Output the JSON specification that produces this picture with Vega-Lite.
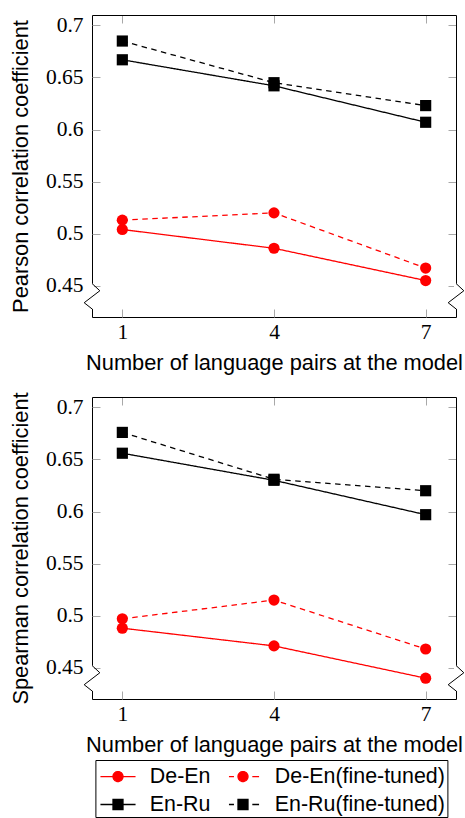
{
  "$schema": "https://vega.github.io/schema/vega-lite/v6.json",
  "padding": {"left": 10, "top": 14, "right": 0, "bottom": 0},
  "datasets": {
    "scores": [
      {"metric": "Pearson", "series": "De-En", "pairs": 1, "value": 0.504},
      {"metric": "Pearson", "series": "De-En", "pairs": 4, "value": 0.486},
      {"metric": "Pearson", "series": "De-En", "pairs": 7, "value": 0.455},
      {"metric": "Pearson", "series": "De-En(fine-tuned)", "pairs": 1, "value": 0.513},
      {"metric": "Pearson", "series": "De-En(fine-tuned)", "pairs": 4, "value": 0.520},
      {"metric": "Pearson", "series": "De-En(fine-tuned)", "pairs": 7, "value": 0.467},
      {"metric": "Pearson", "series": "En-Ru", "pairs": 1, "value": 0.667},
      {"metric": "Pearson", "series": "En-Ru", "pairs": 4, "value": 0.642},
      {"metric": "Pearson", "series": "En-Ru", "pairs": 7, "value": 0.607},
      {"metric": "Pearson", "series": "En-Ru(fine-tuned)", "pairs": 1, "value": 0.685},
      {"metric": "Pearson", "series": "En-Ru(fine-tuned)", "pairs": 4, "value": 0.645},
      {"metric": "Pearson", "series": "En-Ru(fine-tuned)", "pairs": 7, "value": 0.623},
      {"metric": "Spearman", "series": "De-En", "pairs": 1, "value": 0.488},
      {"metric": "Spearman", "series": "De-En", "pairs": 4, "value": 0.471},
      {"metric": "Spearman", "series": "De-En", "pairs": 7, "value": 0.440},
      {"metric": "Spearman", "series": "De-En(fine-tuned)", "pairs": 1, "value": 0.497},
      {"metric": "Spearman", "series": "De-En(fine-tuned)", "pairs": 4, "value": 0.515},
      {"metric": "Spearman", "series": "De-En(fine-tuned)", "pairs": 7, "value": 0.468},
      {"metric": "Spearman", "series": "En-Ru", "pairs": 1, "value": 0.656},
      {"metric": "Spearman", "series": "En-Ru", "pairs": 4, "value": 0.630},
      {"metric": "Spearman", "series": "En-Ru", "pairs": 7, "value": 0.597},
      {"metric": "Spearman", "series": "En-Ru(fine-tuned)", "pairs": 1, "value": 0.676},
      {"metric": "Spearman", "series": "En-Ru(fine-tuned)", "pairs": 4, "value": 0.631},
      {"metric": "Spearman", "series": "En-Ru(fine-tuned)", "pairs": 7, "value": 0.620}
    ],
    "breaks": [
      {"side": "L", "ord": 1, "bx": 0.4, "by": 0.4522},
      {"side": "L", "ord": 2, "bx": 0.555, "by": 0.4452},
      {"side": "L", "ord": 3, "bx": 0.245, "by": 0.4337},
      {"side": "L", "ord": 4, "bx": 0.4, "by": 0.4278},
      {"side": "R", "ord": 1, "bx": 7.6, "by": 0.4522},
      {"side": "R", "ord": 2, "bx": 7.755, "by": 0.4452},
      {"side": "R", "ord": 3, "bx": 7.445, "by": 0.4337},
      {"side": "R", "ord": 4, "bx": 7.6, "by": 0.4278}
    ]
  },
  "config": {
    "view": {"stroke": null},
    "axis": {
      "zindex": 0,
      "grid": false,
      "domainColor": "black",
      "domainWidth": 1,
      "tickColor": "#a8a8a8",
      "tickWidth": 1,
      "labelFont": "Liberation Serif",
      "labelFontSize": 21.5,
      "labelColor": "black",
      "titleFont": "Liberation Sans",
      "titleFontSize": 21.8,
      "titleFontWeight": "normal",
      "titleColor": "black"
    }
  },
  "spacing": 16,
  "vconcat": [
    {
      "width": 364,
      "height": 302,
      "layer": [
        {
          "data": {"name": "scores"},
          "transform": [{"filter": "datum.metric === 'Pearson'"}],
          "mark": {"type": "line", "strokeWidth": 1.3},
          "encoding": {
            "x": {"field": "pairs", "type": "quantitative", "scale": {"domain": [0.4, 7.6], "nice": false, "zero": false},
              "axis": {"orient": "bottom", "values": [1, 4, 7], "format": "d", "ticks": false, "labelPadding": 4, "title": "Number of language pairs at the model", "titlePadding": 10}},
            "y": {"field": "value", "type": "quantitative", "scale": {"domain": [0.42, 0.71], "nice": false, "zero": false},
              "axis": {"orient": "left", "values": [0.45, 0.5, 0.55, 0.6, 0.65, 0.7], "format": "~g", "ticks": false, "labelPadding": 9, "title": "Pearson correlation coefficient", "titlePadding": 13}},
            "color": {"field": "series", "type": "nominal",
              "scale": {"domain": ["De-En", "En-Ru", "De-En(fine-tuned)", "En-Ru(fine-tuned)"], "range": ["#ff0000", "#000000", "#ff0000", "#000000"]},
              "legend": {
                "title": null,
                "orient": "none",
                "legendX": 3.4,
                "legendY": 745,
                "columns": 2,
                "symbolSize": 729,
                "symbolStrokeWidth": 1.3,
                "symbolOffset": 6.1,
                "labelOffset": 17.3,
                "labelFont": "Liberation Sans",
                "labelFontSize": 21.4,
                "labelColor": "black",
                "labelLimit": 300,
                "padding": 2,
                "columnPadding": 11,
                "rowPadding": 3,
                "strokeColor": "black",
                "fillColor": "white",
                "encode": {
                  "symbols": {
                    "update": {
                      "shape": {"signal": "datum.value === 'De-En' ? 'M-1.3,0H1.3M0.37,0A0.37,0.37,0,1,1,-0.37,0A0.37,0.37,0,1,1,0.37,0Z' : datum.value === 'De-En(fine-tuned)' ? 'M-1.04,0H-0.67M0.69,0H1.19M0.37,0A0.37,0.37,0,1,1,-0.37,0A0.37,0.37,0,1,1,0.37,0Z' : datum.value === 'En-Ru' ? 'M-1.3,0H1.3M-0.37,-0.37H0.37V0.37H-0.37Z' : 'M-1.04,0H-0.67M0.69,0H1.19M-0.37,-0.37H0.37V0.37H-0.37Z'"},
                      "fill": {"signal": "indexof(datum.value, 'De-En') === 0 ? '#ff0000' : '#000000'"},
                      "stroke": {"signal": "indexof(datum.value, 'De-En') === 0 ? '#ff0000' : '#000000'"},
                      "strokeWidth": {"value": 1.3},
                      "strokeDash": {"value": [1, 0]},
                      "opacity": {"value": 1}
                    }
                  }
                }
              }},
            "strokeDash": {"field": "series", "type": "nominal", "scale": {"domain": ["De-En(fine-tuned)", "En-Ru(fine-tuned)", "De-En", "En-Ru"], "range": [[5.5, 4.5], [5.5, 4.5], [1, 0], [1, 0]]}, "legend": null}
          }
        },
        {
          "data": {"name": "scores"},
          "transform": [{"filter": "datum.metric === 'Pearson'"}],
          "mark": {"type": "point", "filled": true, "opacity": 1, "size": 125},
          "encoding": {
            "x": {"field": "pairs", "type": "quantitative", "scale": {"domain": [0.4, 7.6], "nice": false, "zero": false},
              "axis": {"orient": "top", "values": [1, 4, 7], "labels": false, "title": null, "tickSize": -8}},
            "y": {"field": "value", "type": "quantitative", "scale": {"domain": [0.42, 0.71], "nice": false, "zero": false},
              "axis": {"orient": "right", "values": [0.45, 0.5, 0.55, 0.6, 0.65, 0.7], "labels": false, "title": null, "tickSize": -8}},
            "color": {"field": "series", "type": "nominal", "scale": {"domain": ["De-En", "En-Ru", "De-En(fine-tuned)", "En-Ru(fine-tuned)"], "range": ["#ff0000", "#000000", "#ff0000", "#000000"]}},
            "shape": {"field": "series", "type": "nominal", "scale": {"domain": ["De-En(fine-tuned)", "De-En", "En-Ru(fine-tuned)", "En-Ru"], "range": ["circle", "circle", "square", "square"]}, "legend": null}
          }
        },
        {
          "data": {"name": "breaks"},
          "transform": [{"filter": "datum.ord === 1 || datum.ord === 4"}],
          "mark": {"type": "line", "color": "white", "strokeWidth": 4, "strokeCap": "butt", "clip": false},
          "encoding": {
            "x": {"field": "bx", "type": "quantitative", "scale": {"domain": [0.4, 7.6], "nice": false, "zero": false}, "axis": null},
            "y": {"field": "by", "type": "quantitative", "scale": {"domain": [0.42, 0.71], "nice": false, "zero": false}, "axis": null},
            "detail": {"field": "side"},
            "order": {"field": "ord"}
          }
        },
        {
          "data": {"name": "breaks"},
          "mark": {"type": "line", "color": "black", "strokeWidth": 1, "clip": false},
          "encoding": {
            "x": {"field": "bx", "type": "quantitative", "scale": {"domain": [0.4, 7.6], "nice": false, "zero": false},
              "axis": {"orient": "bottom", "values": [1, 4, 7], "labels": false, "domain": false, "title": null, "tickSize": -8}},
            "y": {"field": "by", "type": "quantitative", "scale": {"domain": [0.42, 0.71], "nice": false, "zero": false},
              "axis": {"orient": "left", "values": [0.45, 0.5, 0.55, 0.6, 0.65, 0.7], "labels": false, "domain": false, "title": null, "tickSize": -8}},
            "detail": {"field": "side"},
            "order": {"field": "ord"}
          }
        }
      ],
      "resolve": {"axis": {"x": "independent", "y": "independent"}}
    },
    {
      "width": 364,
      "height": 302,
      "layer": [
        {
          "data": {"name": "scores"},
          "transform": [{"filter": "datum.metric === 'Spearman'"}],
          "mark": {"type": "line", "strokeWidth": 1.3},
          "encoding": {
            "x": {"field": "pairs", "type": "quantitative", "scale": {"domain": [0.4, 7.6], "nice": false, "zero": false},
              "axis": {"orient": "bottom", "values": [1, 4, 7], "format": "d", "ticks": false, "labelPadding": 4, "title": "Number of language pairs at the model", "titlePadding": 10}},
            "y": {"field": "value", "type": "quantitative", "scale": {"domain": [0.42, 0.71], "nice": false, "zero": false},
              "axis": {"orient": "left", "values": [0.45, 0.5, 0.55, 0.6, 0.65, 0.7], "format": "~g", "ticks": false, "labelPadding": 9, "title": "Spearman correlation coefficient", "titlePadding": 13}},
            "color": {"field": "series", "type": "nominal", "scale": {"domain": ["De-En", "En-Ru", "De-En(fine-tuned)", "En-Ru(fine-tuned)"], "range": ["#ff0000", "#000000", "#ff0000", "#000000"]}},
            "strokeDash": {"field": "series", "type": "nominal", "scale": {"domain": ["De-En(fine-tuned)", "En-Ru(fine-tuned)", "De-En", "En-Ru"], "range": [[5.5, 4.5], [5.5, 4.5], [1, 0], [1, 0]]}, "legend": null}
          }
        },
        {
          "data": {"name": "scores"},
          "transform": [{"filter": "datum.metric === 'Spearman'"}],
          "mark": {"type": "point", "filled": true, "opacity": 1, "size": 125},
          "encoding": {
            "x": {"field": "pairs", "type": "quantitative", "scale": {"domain": [0.4, 7.6], "nice": false, "zero": false},
              "axis": {"orient": "top", "values": [1, 4, 7], "labels": false, "title": null, "tickSize": -8}},
            "y": {"field": "value", "type": "quantitative", "scale": {"domain": [0.42, 0.71], "nice": false, "zero": false},
              "axis": {"orient": "right", "values": [0.45, 0.5, 0.55, 0.6, 0.65, 0.7], "labels": false, "title": null, "tickSize": -8}},
            "color": {"field": "series", "type": "nominal", "scale": {"domain": ["De-En", "En-Ru", "De-En(fine-tuned)", "En-Ru(fine-tuned)"], "range": ["#ff0000", "#000000", "#ff0000", "#000000"]}},
            "shape": {"field": "series", "type": "nominal", "scale": {"domain": ["De-En(fine-tuned)", "De-En", "En-Ru(fine-tuned)", "En-Ru"], "range": ["circle", "circle", "square", "square"]}, "legend": null}
          }
        },
        {
          "data": {"name": "breaks"},
          "transform": [{"filter": "datum.ord === 1 || datum.ord === 4"}],
          "mark": {"type": "line", "color": "white", "strokeWidth": 4, "strokeCap": "butt", "clip": false},
          "encoding": {
            "x": {"field": "bx", "type": "quantitative", "scale": {"domain": [0.4, 7.6], "nice": false, "zero": false}, "axis": null},
            "y": {"field": "by", "type": "quantitative", "scale": {"domain": [0.42, 0.71], "nice": false, "zero": false}, "axis": null},
            "detail": {"field": "side"},
            "order": {"field": "ord"}
          }
        },
        {
          "data": {"name": "breaks"},
          "mark": {"type": "line", "color": "black", "strokeWidth": 1, "clip": false},
          "encoding": {
            "x": {"field": "bx", "type": "quantitative", "scale": {"domain": [0.4, 7.6], "nice": false, "zero": false},
              "axis": {"orient": "bottom", "values": [1, 4, 7], "labels": false, "domain": false, "title": null, "tickSize": -8}},
            "y": {"field": "by", "type": "quantitative", "scale": {"domain": [0.42, 0.71], "nice": false, "zero": false},
              "axis": {"orient": "left", "values": [0.45, 0.5, 0.55, 0.6, 0.65, 0.7], "labels": false, "domain": false, "title": null, "tickSize": -8}},
            "detail": {"field": "side"},
            "order": {"field": "ord"}
          }
        }
      ],
      "resolve": {"axis": {"x": "independent", "y": "independent"}}
    }
  ]
}
